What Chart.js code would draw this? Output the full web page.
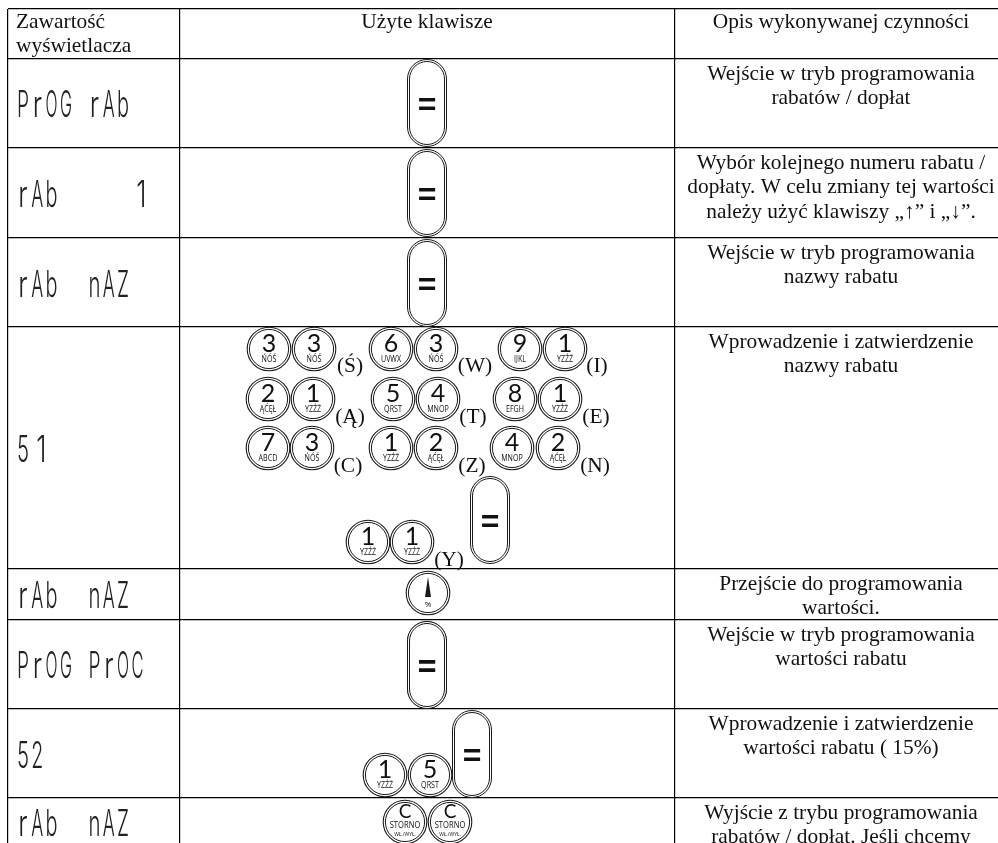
<!DOCTYPE html>
<html>
<head>
<meta charset="utf-8">
<style>
  html, body { margin: 0; padding: 0; background: #fff; overflow: hidden; }
  canvas { display: block; }
</style>
<script src="https://cdn.jsdelivr.net/npm/chart.js@4"></script>
</head>
<body>
<canvas id="tabela" width="998" height="843"></canvas>
<script>
// table lines
const colEdges = [8, 180, 675];
const rowEdges = [9, 59, 148, 238, 327, 569, 620, 709, 798];

// header
const headDisplay = ['Zawartość', 'wyświetlacza'];
const headKeys = 'Użyte klawisze';
const headNotes = 'Opis wykonywanej czynności';

// left column, one per row
const displayTexts = ['PrOG rAb', 'rAb     1', 'rAb  nAZ', '51', 'rAb  nAZ', 'PrOG PrOC', '52', 'rAb  nAZ'];
const displayBase = [117, 207, 297, 462, 608, 678, 768, 836];

// right column, one per row
const noteTexts = [
  ['Wejście w tryb programowania', 'rabatów / dopłat'],
  ['Wybór kolejnego numeru rabatu /', 'dopłaty. W celu zmiany tej wartości', 'należy użyć klawiszy „↑” i „↓”.'],
  ['Wejście w tryb programowania', 'nazwy rabatu'],
  ['Wprowadzenie i zatwierdzenie', 'nazwy rabatu'],
  ['Przejście do programowania', 'wartości.'],
  ['Wejście w tryb programowania', 'wartości rabatu'],
  ['Wprowadzenie i zatwierdzenie', 'wartości rabatu ( 15%)'],
  ['Wyjście z trybu programowania', 'rabatów / dopłat. Jeśli chcemy']
];

// round keys
const keyX = [269, 314, 391, 436, 520, 565, 268, 313, 393, 438, 515, 560, 268, 312, 391, 436, 512, 558, 368, 412, 385, 430];
const keyY = [349, 349, 349, 349, 349, 349, 399, 399, 399, 399, 399, 399, 448, 448, 448, 448, 448, 448, 542, 542, 775, 775];
const keyDigit = ['3', '3', '6', '3', '9', '1', '2', '1', '5', '4', '8', '1', '7', '3', '1', '2', '4', '2', '1', '1', '1', '5'];
const keyLetters = ['ŃÓŚ', 'ŃÓŚ', 'UVWX', 'ŃÓŚ', 'IJKL', 'YZŹŻ', 'ĄĆĘŁ', 'YZŹŻ', 'QRST', 'MNOP', 'EFGH', 'YZŹŻ', 'ABCD', 'ŃÓŚ', 'YZŹŻ', 'ĄĆĘŁ', 'MNOP', 'ĄĆĘŁ', 'YZŹŻ', 'YZŹŻ', 'YZŹŻ', 'QRST'];

// letter written after each pair of keys
const tagX = [350, 475, 597, 350, 473, 596, 348, 472, 595, 449];
const tagBase = [372, 372, 372, 423, 423, 423, 472, 472, 472, 566];
const tagText = ['(Ś)', '(W)', '(I)', '(Ą)', '(T)', '(E)', '(C)', '(Z)', '(N)', '(Y)'];

// "=" keys
const pillX = [427, 427, 427, 490, 427, 427, 472];
const pillY = [103, 193, 283, 520, 665, 665, 754];

// arrow key and storno keys
const arrowX = [428];
const arrowY = [593];
const arrowMarkY = [587];
const stornoX = [405, 450];
const stornoY = [822, 822];

const ink = '#1a1a1a';
const serif = '"Liberation Serif", "Times New Roman", serif';

function pillStyle() {
  const c = document.createElement('canvas');
  c.width = 42; c.height = 92;
  const g = c.getContext('2d');
  g.fillStyle = '#fff';
  g.strokeStyle = ink;
  g.lineWidth = 1;
  g.beginPath(); g.roundRect(1.5, 2.5, 39, 87, 19.5); g.fill(); g.stroke();
  g.beginPath(); g.roundRect(3.5, 4.5, 35, 83, 17.5); g.stroke();
  return c;
}

function arrowStyle() {
  const c = document.createElement('canvas');
  c.width = 8; c.height = 20;
  const g = c.getContext('2d');
  g.fillStyle = ink;
  g.beginPath(); g.moveTo(4, 0); g.lineTo(7, 20); g.lineTo(1, 20); g.fill();
  return c;
}

const pill = pillStyle();
const arrow = arrowStyle();
const toPoints = (xs, ys) => xs.map((x, i) => ({ x: x, y: ys[i] }));
const allRoundX = keyX.concat(arrowX, stornoX);
const allRoundY = keyY.concat(arrowY, stornoY);

function ring(radius, width) {
  return {
    data: toPoints(allRoundX, allRoundY),
    pointStyle: 'circle',
    pointRadius: radius,
    pointBorderWidth: width,
    pointBorderColor: ink,
    pointBackgroundColor: '#fff',
    showLine: false,
    clip: false
  };
}

const tableText = {
  id: 'tableText',
  afterDraw(chart) {
    const ctx = chart.ctx;
    const x = chart.scales.x;
    const y = chart.scales.y;
    const put = (text, px, py, font, align) => {
      ctx.font = font;
      ctx.textAlign = align || 'center';
      ctx.fillText(text, x.getPixelForValue(px), y.getPixelForValue(py));
    };
    const squeezed = (text, px, py, font, sx) => {
      ctx.save();
      ctx.translate(x.getPixelForValue(px), y.getPixelForValue(py));
      ctx.scale(sx, 1);
      ctx.font = font;
      ctx.textAlign = 'center';
      ctx.fillText(text, 0, 0);
      ctx.restore();
    };
    ctx.save();
    ctx.fillStyle = '#111';
    ctx.textBaseline = 'alphabetic';

    const body = '21.4px ' + serif;
    put(headDisplay[0], 16, 28, body, 'left');
    put(headDisplay[1], 16, 52, body, 'left');
    put(headKeys, 427, 28, body);
    put(headNotes, 841, 28, body);

    noteTexts.forEach((lines, r) => {
      lines.forEach((line, l) => put(line, 841, rowEdges[r + 1] + 21 + l * 24.4, body));
    });
    tagText.forEach((t, i) => put(t, tagX[i], tagBase[i], body));

    // display texts: thin font, one character per display cell
    ctx.fillStyle = '#222';
    const lcd = '300 37px Inter, sans-serif';
    displayTexts.forEach((t, i) => {
      Array.from(t).forEach((ch, k) => {
        ctx.font = lcd;
        const sx = Math.min(12 / ctx.measureText(ch).width, 0.7);
        const shift = ch === '1' ? 4 : 0;
        squeezed(ch, 23 + k * 14.3 + shift, displayBase[i], lcd, sx);
      });
    });

    ctx.fillStyle = '#111';
    keyDigit.forEach((d, i) => {
      put(d, keyX[i], keyY[i] + 3, '25px Lato, "Open Sans", sans-serif');
      squeezed(keyLetters[i], keyX[i], keyY[i] + 13, '9.5px "Open Sans", sans-serif', 0.75);
    });
    pillX.forEach((px, i) => put('=', px, pillY[i] + 12, 'bold 32px "Liberation Sans", sans-serif'));
    put('%', arrowX[0], arrowY[0] + 14, '8px "Open Sans", sans-serif');
    stornoX.forEach((px, i) => {
      put('C', px, stornoY[i] - 4, '19px Lato, "Open Sans", sans-serif');
      squeezed('STORNO', px, stornoY[i] + 6, '9.5px "Open Sans", sans-serif', 0.8);
      put('WŁ./WYŁ.', px, stornoY[i] + 14, '5px "Open Sans", sans-serif');
    });
    ctx.restore();
  }
};

const chart = new Chart(document.getElementById('tabela'), {
  type: 'scatter',
  data: {
    datasets: [
      { data: toPoints(arrowX, arrowMarkY), pointStyle: arrow, showLine: false, clip: false },
      ring(19.6, 1),
      ring(21.8, 1.1),
      { data: toPoints(pillX, pillY), pointStyle: pill, showLine: false, clip: false }
    ]
  },
  plugins: [tableText],
  options: {
    responsive: false,
    animation: false,
    events: [],
    layout: { autoPadding: false, padding: { left: 8, top: 9, right: 0, bottom: 0 } },
    plugins: { legend: { display: false }, tooltip: { enabled: false } },
    scales: {
      x: {
        type: 'linear', min: 8, max: 998,
        afterBuildTicks: axis => { axis.ticks = colEdges.map(v => ({ value: v })); },
        ticks: { display: false },
        border: { display: false },
        grid: { color: '#000', lineWidth: 1.2, drawTicks: false }
      },
      y: {
        type: 'linear', min: 9, max: 843, reverse: true,
        afterBuildTicks: axis => { axis.ticks = rowEdges.map(v => ({ value: v })); },
        ticks: { display: false },
        border: { display: false },
        grid: { color: '#000', lineWidth: 1.2, drawTicks: false }
      }
    }
  }
});
</script>
</body>
</html>
